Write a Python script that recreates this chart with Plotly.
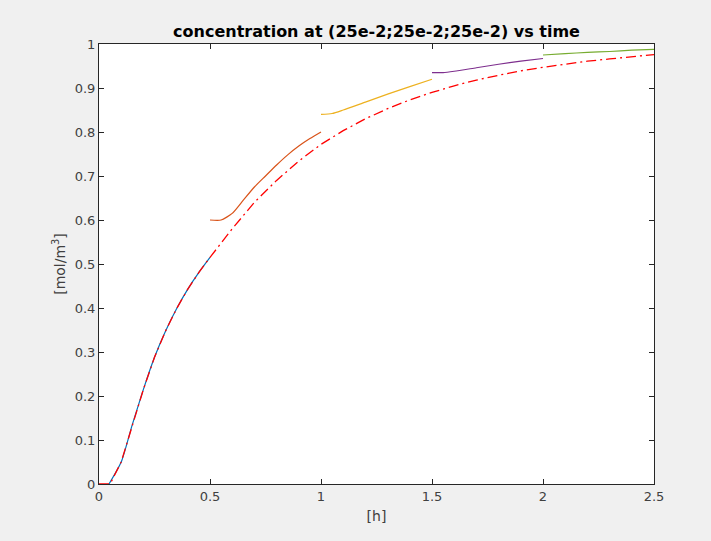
import plotly.graph_objects as go

# Reference (red dash-dot) curve
t_ref = [0, 0.05, 0.1, 0.15, 0.2, 0.25, 0.3, 0.35, 0.4, 0.45, 0.5, 0.6, 0.7, 0.8, 0.9, 1.0,
         1.1, 1.2, 1.3, 1.4, 1.5, 1.6, 1.7, 1.8, 1.9, 2.0, 2.1, 2.2, 2.3, 2.4, 2.5]
c_ref = [0, 0, 0.05, 0.135, 0.215, 0.288, 0.348, 0.399, 0.443, 0.481, 0.515, 0.58, 0.64, 0.69, 0.734, 0.772,
         0.803, 0.83, 0.853, 0.873, 0.89, 0.905, 0.918, 0.929, 0.939, 0.947, 0.954, 0.961, 0.966, 0.971, 0.976]

# Piecewise segments
t1 = [0.045, 0.1, 0.15, 0.2, 0.25, 0.3, 0.35, 0.4, 0.45, 0.5]
c1 = [0, 0.05, 0.135, 0.215, 0.288, 0.348, 0.399, 0.443, 0.481, 0.515]

t2 = [0.5, 0.55, 0.6, 0.65, 0.7, 0.75, 0.8, 0.85, 0.9, 0.95, 1.0]
c2 = [0.6, 0.6, 0.615, 0.645, 0.675, 0.70, 0.725, 0.748, 0.768, 0.785, 0.80]

t3 = [1.0, 1.05, 1.1, 1.2, 1.3, 1.4, 1.5]
c3 = [0.84, 0.842, 0.85, 0.868, 0.886, 0.903, 0.92]

t4 = [1.5, 1.55, 1.6, 1.7, 1.8, 1.9, 2.0]
c4 = [0.935, 0.935, 0.938, 0.946, 0.954, 0.961, 0.967]

t5 = [2.0, 2.1, 2.2, 2.3, 2.4, 2.5]
c5 = [0.975, 0.978, 0.981, 0.983, 0.986, 0.988]

segments = [(t1, c1, "#0072BD"), (t2, c2, "#D95319"), (t3, c3, "#EDB120"),
            (t4, c4, "#7E2F8E"), (t5, c5, "#77AC30")]

x_ticks = [0, 0.5, 1, 1.5, 2, 2.5]
x_labels = ["0", "0.5", "1", "1.5", "2", "2.5"]
y_ticks = [0, 0.1, 0.2, 0.3, 0.4, 0.5, 0.6, 0.7, 0.8, 0.9, 1]
y_labels = ["0", "0.1", "0.2", "0.3", "0.4", "0.5", "0.6", "0.7", "0.8", "0.9", "1"]

fig = go.Figure()
for t, c, col in segments:
    fig.add_trace(go.Scatter(x=t, y=c, mode="lines", line=dict(color=col, width=1.2, shape="spline", smoothing=0.6),
                             showlegend=False, hoverinfo="skip"))
fig.add_trace(go.Scatter(x=t_ref, y=c_ref, mode="lines",
                         line=dict(color="#FF0000", width=1.3, dash="10px,4px,2px,4px"),
                         showlegend=False, hoverinfo="skip"))

axis_common = dict(showgrid=False, zeroline=False, showline=True, linecolor="#262626",
                   linewidth=1, mirror="ticks", ticks="inside", ticklen=5,
                   tickcolor="#262626",
                   tickfont=dict(family="DejaVu Sans", size=13, color="#404040"))

fig.update_layout(
    width=711, height=541,
    paper_bgcolor="#f0f0f0", plot_bgcolor="#ffffff",
    margin=dict(l=99, r=57, t=44, b=57),
    title=dict(text="<b>concentration at (25e-2;25e-2;25e-2) vs time</b>",
               x=0.5, xanchor="center", xref="paper", y=1, yref="paper",
               yanchor="bottom", pad=dict(b=7),
               font=dict(family="DejaVu Sans", size=16, color="#000000")),
    xaxis=dict(range=[0, 2.5], tickvals=x_ticks, ticktext=x_labels,
               title=dict(text="[h]", standoff=8,
                          font=dict(family="DejaVu Sans", size=14, color="#404040")),
               **axis_common),
    yaxis=dict(range=[0, 1], tickvals=y_ticks, ticktext=y_labels,
               title=dict(text="[mol/m<sup>3</sup>]", standoff=5,
                          font=dict(family="DejaVu Sans", size=14, color="#404040")),
               **axis_common),
)

fig.write_html("out.html", config={"displayModeBar": False},
               post_script="document.body.style.margin='0';document.body.style.background='#f0f0f0';")
